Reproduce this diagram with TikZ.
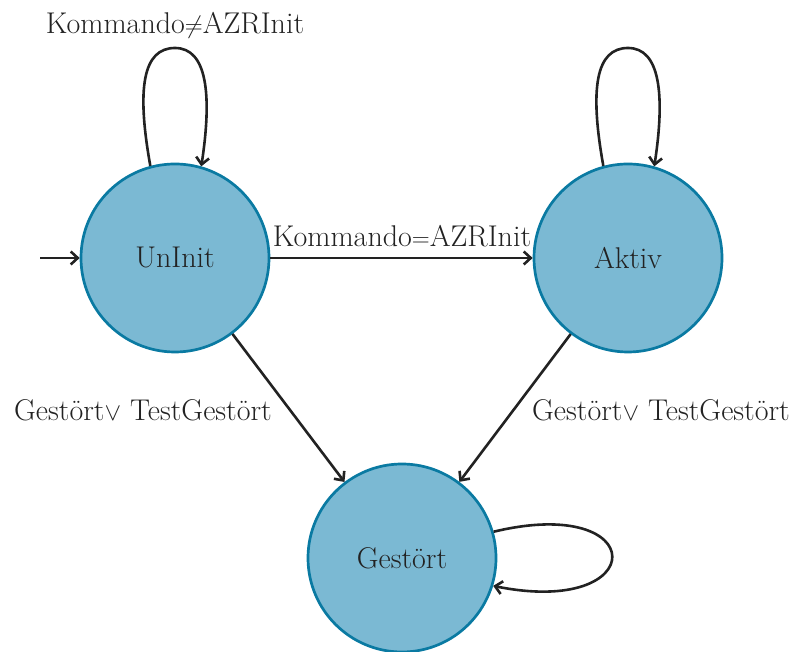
\documentclass[tikz,border=0pt]{standalone}
\usetikzlibrary{arrows.meta}
\definecolor{stfill}{HTML}{7BB9D3}
\definecolor{stdraw}{HTML}{0A7AA2}
\definecolor{ink}{HTML}{222222}
\begin{document}
\begin{tikzpicture}[x=1pt,y=1pt,
  state/.style={circle,draw=stdraw,fill=stfill,line width=2.7pt,minimum size=188pt,inner sep=0pt,text=ink,font=\fontsize{30}{36}\selectfont},
  edge/.style={draw=ink,line width=2.6pt,-{Straight Barb[length=7pt,width=13pt,line width=2.6pt]}},
  lbl/.style={text=ink,font=\fontsize{30}{36}\selectfont,inner sep=0pt}]
\useasboundingbox (0,0) rectangle (797,652);
\node[state] (u) at (175,394) {UnInit};
\node[state] (a) at (628,394) {Aktiv};
\node[state] (g) at (402,94) {Gestört};
\coordinate (start) at (40,394);
\coordinate (ut) at (175,604);
\coordinate (at) at (628,604);
\draw[edge] (start) -- (u);
\draw[edge] (u) -- (a);
\draw[edge] (u) -- (g);
\draw[edge] (a) -- (g);
\draw[edge] (u.105) .. controls +(-14,78) and +(-32,0) .. (ut) .. controls +(32,0) and +(11,72) .. (u.74);
\draw[edge] (a.105) .. controls +(-14,78) and +(-32,0) .. (at) .. controls +(32,0) and +(11,72) .. (a.74);
\draw[edge] (g.16) .. controls +(158,38) and +(158,-32) .. (g.-17);
\node[lbl] (l1) at (175,627) {Kommando$\neq$AZRInit};
\node[lbl] (l2) at (402,416) {Kommando$=$AZRInit};
\node[lbl] (l3) at (143,242) {Gestört$\vee$ TestGestört};
\node[lbl] (l4) at (661,242) {Gestört$\vee$ TestGestört};
\end{tikzpicture}
\end{document}
